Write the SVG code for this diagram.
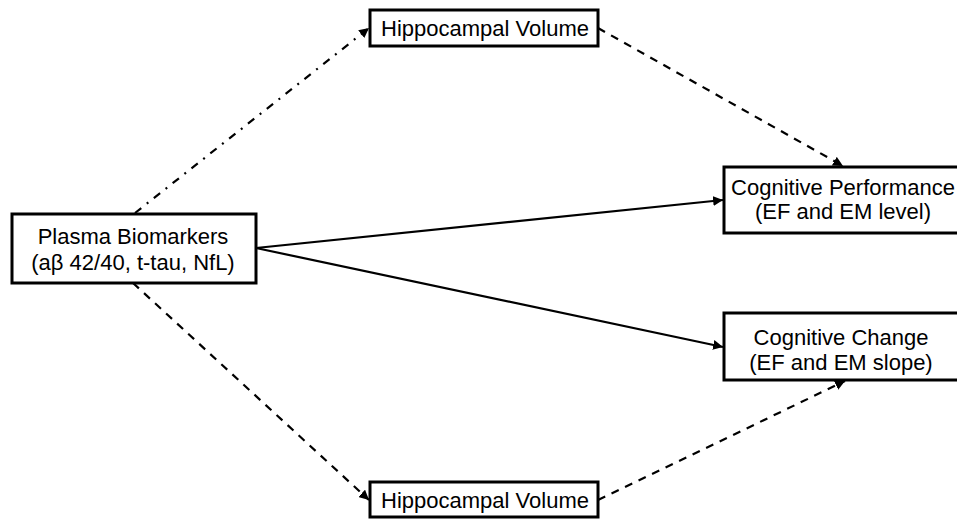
<svg xmlns="http://www.w3.org/2000/svg" width="957" height="519" viewBox="0 0 957 519">
<style>
.box{fill:#fff;stroke:#000;stroke-width:3}
.t{font-family:"Liberation Sans",Arial,sans-serif;font-size:22px;fill:#000;text-anchor:middle}
.c{fill:none;stroke:#000;stroke-width:2.2}
.dash{stroke-dasharray:8,7}
.dd{stroke-dasharray:8,7,2,7}
</style>
<defs>
<marker id="ah" viewBox="0 0 10 10" refX="10" refY="5" markerWidth="4.5" markerHeight="4.5" orient="auto" markerUnits="strokeWidth">
<path d="M0,0 L10,5 L0,10 z" fill="#000"/>
</marker>
</defs>
<g id="connectors">
<line class="c" x1="256" y1="248" x2="723" y2="200" marker-end="url(#ah)"/>
<line class="c" x1="256" y1="248" x2="723" y2="347" marker-end="url(#ah)"/>
<line class="c dd" x1="135" y1="213" x2="369" y2="28" marker-end="url(#ah)"/>
<line class="c dash" x1="598" y1="28" x2="843" y2="166" marker-end="url(#ah)"/>
<line class="c dash" x1="133" y1="283" x2="369" y2="500" marker-end="url(#ah)"/>
<line class="c dash" x1="598" y1="500" x2="845" y2="381" marker-end="url(#ah)"/>
</g>
<g id="plasma">
<rect class="box" x="12" y="214" width="244" height="69"/>
<text class="t" x="133" y="244">Plasma Biomarkers</text>
<text class="t" x="133" y="270">(aβ 42/40, t-tau, NfL)</text>
</g>
<g id="hippo-top">
<rect class="box" x="370" y="10" width="228" height="36"/>
<text class="t" x="485" y="36">Hippocampal Volume</text>
</g>
<g id="hippo-bottom">
<rect class="box" x="370" y="482" width="228" height="35"/>
<text class="t" x="485" y="508">Hippocampal Volume</text>
</g>
<g id="cog-perf">
<rect class="box" x="724" y="167" width="245" height="66"/>
<text class="t" x="843" y="195">Cognitive Performance</text>
<text class="t" x="843" y="219">(EF and EM level)</text>
</g>
<g id="cog-change">
<rect class="box" x="724" y="313" width="245" height="67"/>
<text class="t" x="841" y="345">Cognitive Change</text>
<text class="t" x="841" y="370">(EF and EM slope)</text>
</g>
</svg>
